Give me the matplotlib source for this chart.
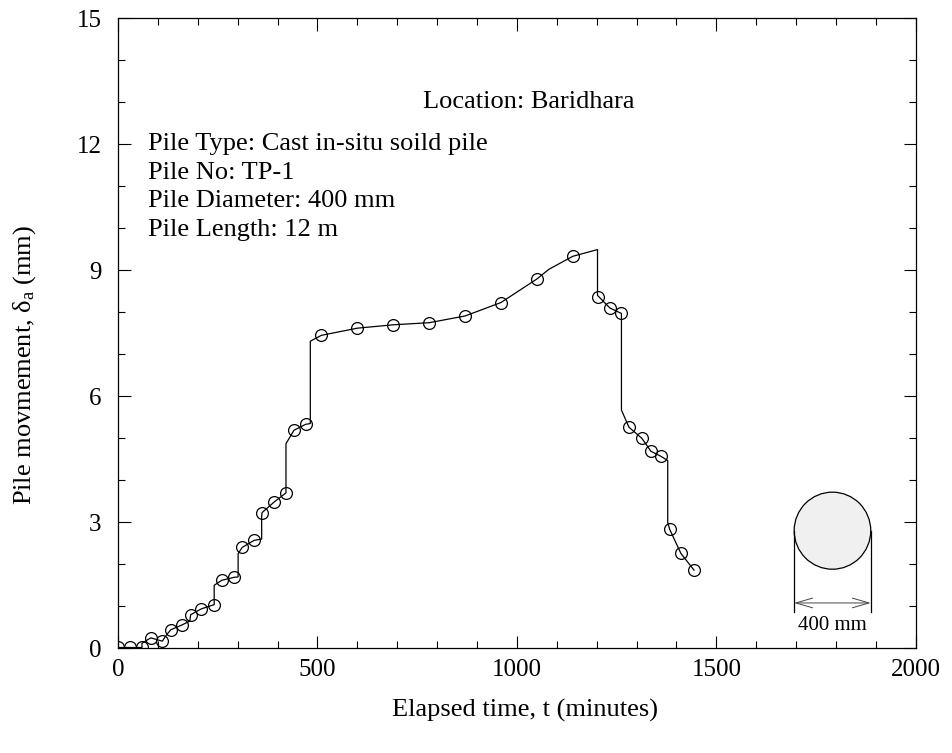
import matplotlib
matplotlib.use('Agg')
import matplotlib.pyplot as plt
from matplotlib.patches import Ellipse
from matplotlib.ticker import MultipleLocator

plt.rcParams['font.family'] = 'Liberation Serif'
plt.rcParams['mathtext.fontset'] = 'custom'
plt.rcParams['mathtext.rm'] = 'Liberation Serif'
plt.rcParams['mathtext.it'] = 'Liberation Serif:italic'

# readings (marker points)
t_pts = [0, 30, 60, 82, 111, 132, 161, 182, 209, 241, 260, 291, 311, 341, 361,
         391, 421, 441, 470, 510, 600, 690, 780, 870, 960, 1050, 1140,
         1202, 1233, 1262, 1281, 1313, 1336, 1361, 1383, 1411, 1444]
d_pts = [0.02, 0.02, 0.02, 0.25, 0.17, 0.44, 0.56, 0.80, 0.94, 1.04, 1.62, 1.69,
         2.40, 2.57, 3.23, 3.48, 3.70, 5.19, 5.33, 7.45, 7.62, 7.70, 7.75, 7.91,
         8.23, 8.79, 9.33, 8.36, 8.10, 7.97, 5.26, 5.00, 4.69, 4.57, 2.83, 2.26, 1.86]

# continuous trace
t_line = [0, 30, 60, 60, 82, 111, 120, 132, 161, 180, 182, 209, 241, 241, 260,
          291, 301, 301, 311, 341, 360, 360, 361, 391, 421, 421, 441, 470, 482,
          482, 510, 600, 690, 780, 870, 960, 1050, 1080, 1140, 1202, 1202, 1233,
          1262, 1262, 1281, 1313, 1336, 1361, 1378, 1378, 1383, 1411, 1444]
d_line = [0.02, 0.02, 0.02, 0.12, 0.25, 0.17, 0.30, 0.44, 0.56, 0.65, 0.80, 0.94,
          1.04, 1.50, 1.62, 1.69, 1.70, 2.25, 2.40, 2.57, 2.60, 3.13, 3.23, 3.48,
          3.70, 4.87, 5.19, 5.33, 5.35, 7.31, 7.45, 7.62, 7.70, 7.75, 7.91, 8.23,
          8.79, 9.02, 9.33, 9.49, 8.40, 8.10, 7.97, 5.67, 5.26, 5.00, 4.69, 4.57,
          4.47, 3.00, 2.83, 2.26, 1.86]

info = ['Pile Type: Cast in-situ soild pile', 'Pile No: TP-1',
        'Pile Diameter: 400 mm', 'Pile Length: 12 m']

fig = plt.figure(figsize=(9.52, 7.53), dpi=100)
ax = fig.add_axes([0.124, 0.139, 0.838, 0.837])

ax.plot(t_line, d_line, color='black', lw=0.9)
ax.plot(t_pts, d_pts, 'o', mfc='none', mec='black', ms=8.5, mew=0.9)

ax.set_xlim(0, 2000)
ax.set_ylim(0, 15)
ax.xaxis.set_major_locator(MultipleLocator(500))
ax.xaxis.set_minor_locator(MultipleLocator(100))
ax.yaxis.set_major_locator(MultipleLocator(3))
ax.yaxis.set_minor_locator(MultipleLocator(1))
ax.tick_params(which='both', direction='in', top=True, right=True, labelsize=18)
ax.tick_params(which='major', length=9, width=0.8)
ax.tick_params(which='minor', length=5, width=0.8)
ax.tick_params(axis='x', which='major', pad=8)
ax.tick_params(axis='y', which='major', pad=12)
for s in ax.spines.values():
    s.set_linewidth(0.9)

ax.set_xlabel('Elapsed time, t (minutes)', fontsize=19)
ax.set_ylabel(r'Pile movmement, $\mathrm{\delta_a}$ (mm)', fontsize=19)
ax.xaxis.set_label_coords(0.51, -0.081)
ax.yaxis.set_label_coords(-0.1, 0.45)

ax.text(1030, 13.0, 'Location: Baridhara', fontsize=19, ha='center', va='center')
for i, s in enumerate(info):
    ax.text(75, 12.0 - i * 0.68, s, fontsize=19, ha='left', va='center')

# pile cross-section sketch
cx, cy, rx, ry = 1791, 2.80, 96, 0.917
ax.add_patch(Ellipse((cx, cy), 2 * rx, 2 * ry, facecolor='#f0f0f0',
                     edgecolor='black', lw=0.9))
ax.plot([cx - rx, cx - rx], [cy, 0.86], color='black', lw=0.9)
ax.plot([cx + rx, cx + rx], [cy, 0.86], color='black', lw=0.9)
ax.annotate('', xy=(cx - rx, 1.08), xytext=(cx + rx, 1.08),
            arrowprops=dict(arrowstyle='<->,head_length=1.2,head_width=0.35',
                            lw=0.7, color='#444444', shrinkA=0, shrinkB=0))
ax.text(cx, 0.55, '400 mm', fontsize=15, ha='center', va='center')

fig.savefig('out.png', dpi=100)
